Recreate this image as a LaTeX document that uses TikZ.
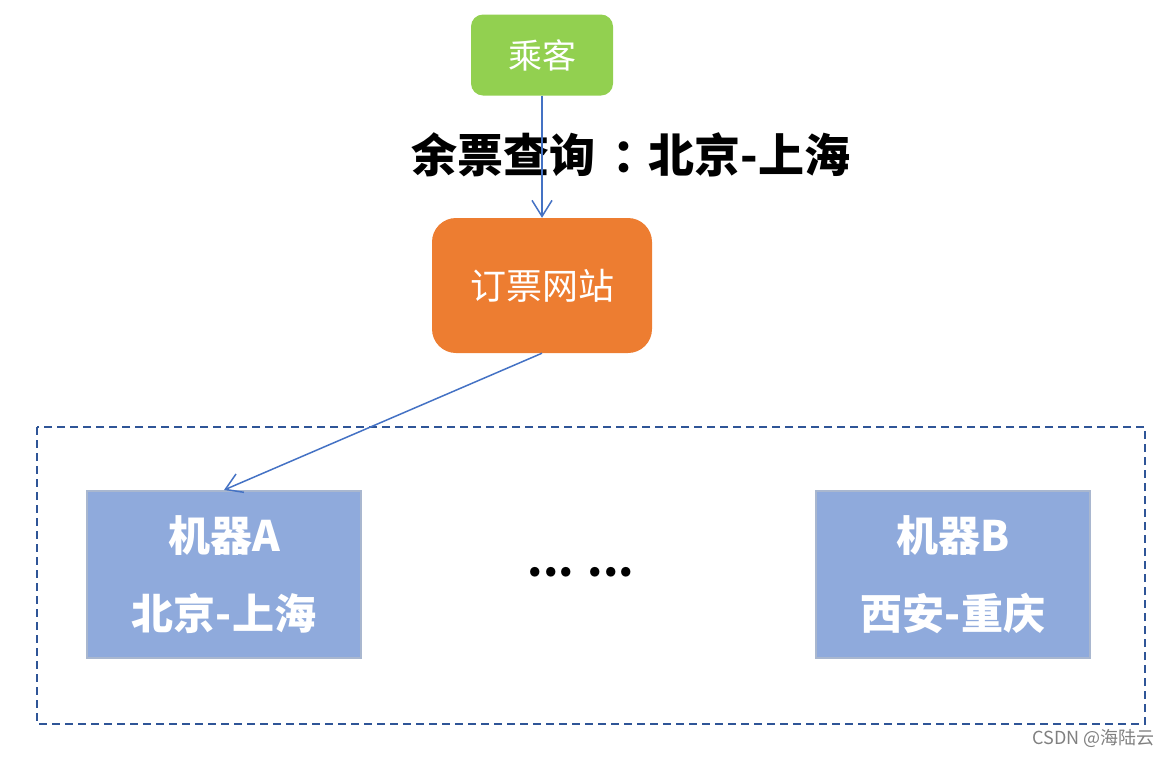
\documentclass[tikz,border=0pt]{standalone}
\usepackage{fontspec}
\usepackage{xcolor}
\usetikzlibrary{arrows.meta}
\setmainfont{Noto Sans CJK SC}
\definecolor{passenger-green}{HTML}{92D050}
\definecolor{site-orange}{HTML}{ED7D31}
\definecolor{machine-blue}{HTML}{8FAADC}
\definecolor{machine-edge}{HTML}{A9B7CF}
\definecolor{link-blue}{HTML}{4472C4}
\definecolor{cluster-blue}{HTML}{2F5597}
\tikzset{
    passenger-box/.style = {fill=passenger-green, text=white, rectangle, rounded corners=12pt, inner sep=0pt, minimum width=142pt, minimum height=81pt, font=\fontsize{34}{38}\selectfont},
    site-box/.style = {fill=site-orange, text=white, rectangle, rounded corners=24pt, inner sep=0pt, minimum width=220pt, minimum height=135pt, font=\fontsize{36}{40}\selectfont},
    machine-box/.style = {draw=machine-edge, line width=2pt, fill=machine-blue, text=white, rectangle, inner sep=0pt, minimum width=274pt, minimum height=167pt, align=center, font=\bfseries\fontsize{42}{78}\selectfont},
    query-link/.style = {draw=link-blue, line width=1.5pt, -{Straight Barb[length=16pt,width=20pt,line width=1.5pt]}},
}

\begin{document}
\begin{tikzpicture}[x=1pt,y=-1pt]
\useasboundingbox (0,0) rectangle (1172,756);
\node [passenger-box] (passenger) at (542,55) {乘客};
\node [site-box] (site) at (542,285.5) {订票网站};
\node [font=\bfseries\fontsize{46}{50}\selectfont] (query) at (631,155) {余票查询\hspace{0.38em}：\hspace{-0.22em}北京-上海};
\draw [draw=cluster-blue, line width=2pt, dash pattern=on 8pt off 5pt] (37,427) rectangle (1145,724);
\node [machine-box] (machineA) at (224,574.5) {机器A\\北京-上海};
\node [machine-box] (machineB) at (953,574.5) {机器B\\西安-重庆};
\node [font=\bfseries\fontsize{44}{50}\selectfont] (dots) at (581,572) {... ...};
\node [text=gray, font=\fontsize{18}{20}\selectfont, anchor=east] (mark) at (1158,738) {CSDN @海陆云};
\draw [query-link] (passenger.south) -- (site.north);
\draw [query-link] (site.south) -- (machineA.north);
\end{tikzpicture}
\end{document}
